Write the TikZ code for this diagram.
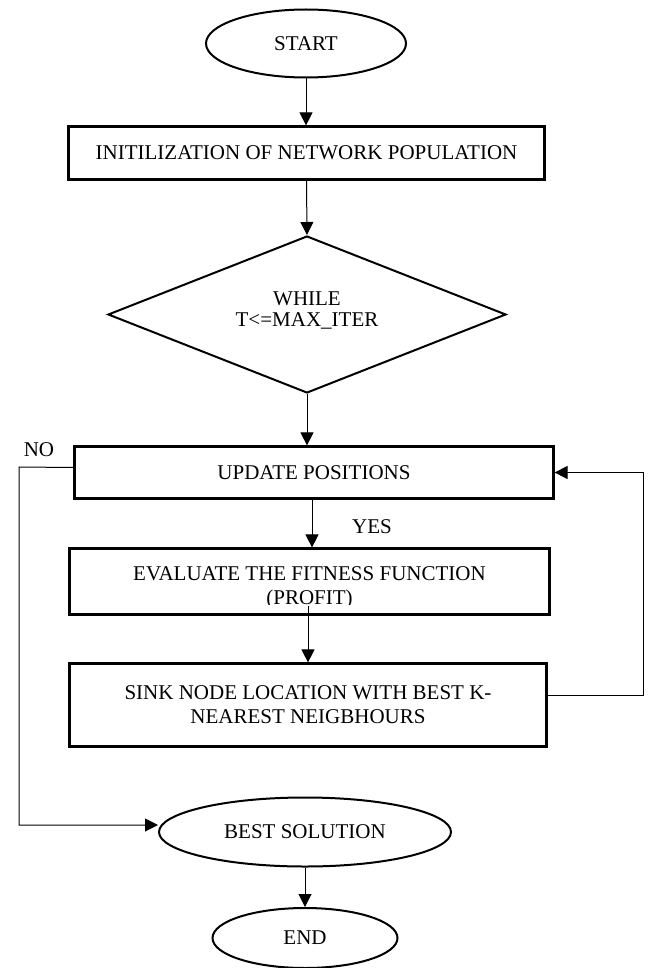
\documentclass[tikz,border=0pt]{standalone}
\usepackage{fontspec}
\setmainfont{Liberation Serif}
\usetikzlibrary{shapes.geometric,arrows.meta}
\begin{document}
\begin{tikzpicture}[x=1pt,y=-1pt,
  every node/.style={font=\fontsize{21pt}{24pt}\selectfont, inner sep=0pt},
  boxnode/.style={draw, line width=2.2pt, rectangle, align=center},
  ovalnode/.style={draw, line width=2pt, ellipse},
  decnode/.style={draw, line width=2pt, diamond, align=center},
  conn/.style={line width=1pt, -{Triangle[length=13pt,width=13pt]}},
  lbl/.style={}]
\useasboundingbox (0,0) rectangle (649,968);
\fill[white] (0,0) rectangle (649,968);

% nodes
\node[ovalnode, minimum width=200pt, minimum height=68pt] (start) at (306,43.5) {START};
\node[boxnode, minimum width=476pt, minimum height=53pt] (init) at (306.5,153) {INITILIZATION OF NETWORK POPULATION};
\node[decnode, minimum width=398pt, minimum height=157pt] (dia) at (307,314.5) {};
\node[align=center, font=\fontsize{21pt}{21pt}\selectfont] (diatext) at (307,310) {WHILE\\T<=MAX\_ITER};
\node[boxnode, minimum width=479pt, minimum height=52pt] (upd) at (314,472.5) {UPDATE POSITIONS};
\node[boxnode, minimum width=480pt, minimum height=66pt] (eval) at (309.5,581.5) {};
\begin{scope}
  \clip ([xshift=2pt,yshift=-2pt]eval.north west) rectangle ([xshift=-2pt,yshift=11pt]eval.south east);
  \node[align=center] (evaltext) at (309.5,588) {EVALUATE THE FITNESS FUNCTION\\(PROFIT)};
\end{scope}
\node[boxnode, minimum width=477pt, minimum height=83pt] (sink) at (308,705) {SINK NODE LOCATION WITH BEST K-\\NEAREST NEIGBHOURS};
\node[ovalnode, minimum width=292pt, minimum height=69pt] (bs) at (305,832) {BEST SOLUTION};
\node[ovalnode, minimum width=185pt, minimum height=60pt] (end) at (305,938) {END};

% labels
\node[lbl] (no) at (39,450) {NO};
\node[lbl] (yes) at (372,527) {YES};

% coordinates for loop lines
\coordinate (nl) at (19,467);
\coordinate (nb) at (19,825);
\coordinate (rb) at (643,695);
\coordinate (rt) at (643,472.5);

% connectors
\draw[conn] (start.south) -- (init.north -| start.south);
\draw[conn] (init.south) -- (dia.north);
\draw[conn] (dia.south) -- (dia.south |- upd.north);
\draw[conn] ([xshift=-2pt]upd.south) -- ([xshift=-2pt]upd.south |- eval.north);
\draw[conn] ([xshift=-1.5pt,yshift=3pt]evaltext.south) -- ([xshift=-1.5pt]evaltext.south |- sink.north);
\draw[conn] (bs.south) -- (end.north);
\draw[conn] ([yshift=5pt]upd.west) -- (nl) -- (nb) -- ([yshift=7pt]bs.west);
\draw[conn] ([yshift=10pt]sink.east) -- (rb) -- (rt) -- (upd.east);
\end{tikzpicture}
\end{document}
